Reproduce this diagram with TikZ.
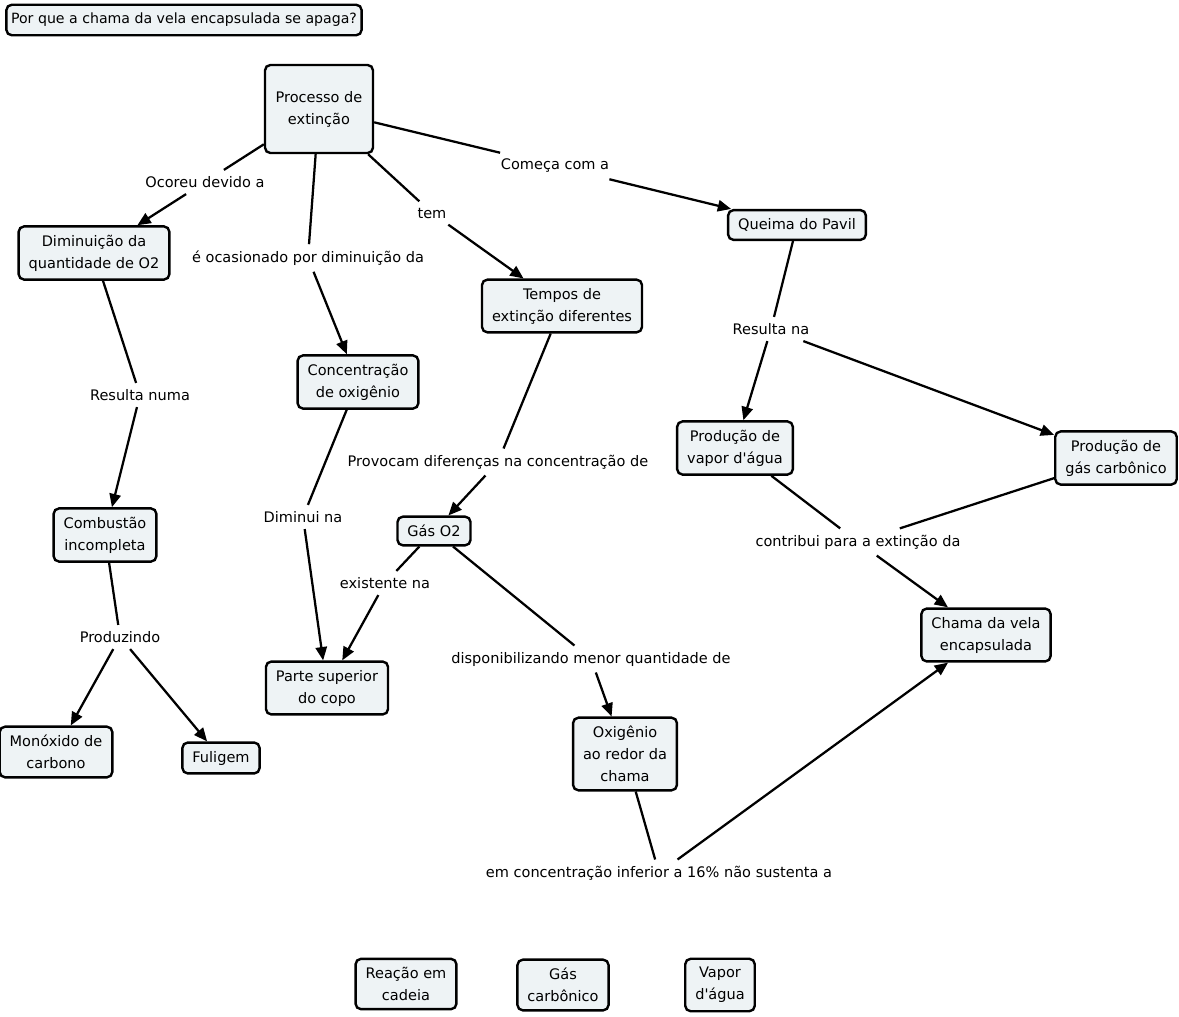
\documentclass[tikz,border=0pt]{standalone}
\usepackage{fontspec}
\newfontfamily\cmapfont{DejaVu Sans}
\usetikzlibrary{arrows.meta}

\begin{document}
\begin{tikzpicture}[x=0.75pt,y=-0.75pt,
            -{Triangle[length=10pt,width=8.5pt]},
            line width=1.7pt,
            font=\cmapfont\fontsize{10.9}{16.5}\selectfont,
            box/.style = {draw,line width=1.8pt,rounded corners=4pt,
                fill=cmapfill,align=center,inner xsep=7.5pt,inner ysep=6.3pt},
            unbox/.style = {align=center,inner sep=4pt}]
            \definecolor{cmapfill}{HTML}{EEF3F5}
            \useasboundingbox (0,0) rectangle (1179,1017);
            % concepts
            \node[box,inner xsep=3.5pt,font=\cmapfont\fontsize{10.6}{16.5}\selectfont] (pergunta) at (184,20) {Por que a chama da vela encapsulada se apaga?};
            \node[box,minimum height=66pt,minimum width=81pt] (processo) at (319,109) {Processo de\\extinção};
            \node[box] (diminuicao) at (94,253) {Diminuição da\\quantidade de O2};
            \node[box] (queima) at (797,225) {Queima do Pavil};
            \node[box] (tempos) at (562,306) {Tempos de\\extinção diferentes};
            \node[box] (concentracao) at (358,382) {Concentração\\de oxigênio};
            \node[box] (prodvapor) at (735,448) {Produção de\\vapor d'água};
            \node[box] (prodgas) at (1116,458) {Produção de\\gás carbônico};
            \node[box] (combustao) at (105,535) {Combustão\\incompleta};
            \node[box] (gaso2) at (434,531) {Gás O2};
            \node[box] (chama) at (986,635) {Chama da vela\\encapsulada};
            \node[box] (parte) at (327,688) {Parte superior\\do copo};
            \node[box] (oxigenio) at (625,754) {Oxigênio\\ao redor da\\chama};
            \node[box] (monoxido) at (56,752) {Monóxido de\\carbono};
            \node[box] (fuligem) at (221,758) {Fuligem};
            \node[box] (reacao) at (406,984) {Reação em\\cadeia};
            \node[box] (gascarb) at (563,985) {Gás\\carbônico};
            \node[box] (vapor) at (720,985) {Vapor\\d'água};
            % linking phrases
            \node[unbox] (ocoreu) at (205,182) {Ocoreu devido a};
            \node[unbox] (ocasionado) at (308,258) {é ocasionado por diminuição da};
            \node[unbox] (tem) at (432,213) {tem};
            \node[unbox] (comeca) at (555,166) {Começa com a};
            \node[unbox] (resultana) at (771,329) {Resulta na};
            \node[unbox] (resultanuma) at (140,395) {Resulta numa};
            \node[unbox] (provocam) at (498,462) {Provocam diferenças na concentração de};
            \node[unbox] (diminui) at (303,517) {Diminui na};
            \node[unbox] (existente) at (385,583) {existente na};
            \node[unbox] (disponib) at (591,659) {disponibilizando menor quantidade de};
            \node[unbox] (contribui) at (858,542) {contribui para a extinção da};
            \node[unbox] (produzindo) at (120,637) {Produzindo};
            \node[unbox] (sustenta) at (659,873) {em concentração inferior a 16\% não sustenta a};
            \path
                (processo) edge[-] (ocoreu)
                (ocoreu) edge (diminuicao)
                (processo) edge[-] (ocasionado)
                (ocasionado) edge (concentracao)
                (processo) edge[-] (tem)
                (tem) edge (tempos)
                (processo) edge[-] (comeca)
                (comeca) edge (queima)
                (queima) edge[-] (resultana)
                (resultana) edge (prodvapor)
                (resultana) edge (prodgas)
                (diminuicao) edge[-] (resultanuma)
                (resultanuma) edge (combustao)
                (tempos) edge[-] (provocam)
                (provocam) edge (gaso2)
                (concentracao) edge[-] (diminui)
                (diminui) edge (parte)
                (gaso2) edge[-] (existente)
                (existente) edge (parte)
                (gaso2) edge[-] (disponib)
                (disponib) edge (oxigenio)
                (prodvapor) edge[-] (contribui)
                (prodgas) edge[-] (contribui)
                (contribui) edge (chama)
                (combustao) edge[-] (produzindo)
                (produzindo) edge (monoxido)
                (produzindo) edge (fuligem)
                (oxigenio) edge[-] (sustenta)
                (sustenta) edge (chama);
\end{tikzpicture}
\end{document}
